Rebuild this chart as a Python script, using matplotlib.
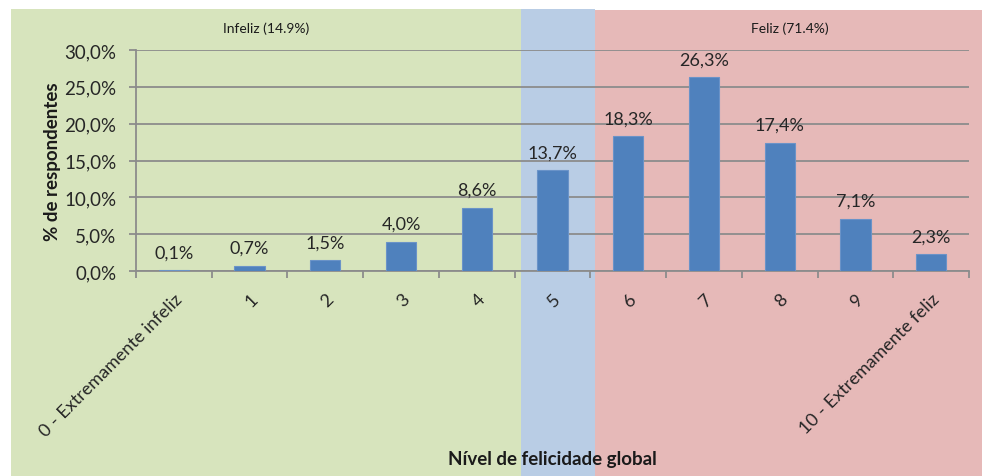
import matplotlib
matplotlib.use("Agg")
import matplotlib.pyplot as plt
from matplotlib.patches import Rectangle
import numpy as np

categories = ["0 - Extremamente infeliz", "1", "2", "3", "4", "5", "6", "7", "8", "9",
              "10 - Extremamente feliz"]
values = [0.1, 0.7, 1.5, 4.0, 8.6, 13.7, 18.3, 26.3, 17.4, 7.1, 2.3]
yticks = [0, 5, 10, 15, 20, 25, 30]
band_labels = ["Infeliz (14.9%)", "Feliz (71.4%)"]

plt.rcParams['font.family'] = ['Lato', 'DejaVu Sans']

W, H = 984, 477
fig = plt.figure(figsize=(W / 100, H / 100), dpi=100)

def fx(px):
    return px / W

def fy(py):
    return 1 - py / H

# background bands (figure coordinates)
bands = [(11, 521, 10, "#D7E4BD"), (521, 595, 10, "#B9CDE5"), (595, 982, 11, "#E6B9B8")]
for x0, x1, top, col in bands:
    fig.patches.append(Rectangle((fx(x0), 0), fx(x1) - fx(x0), fy(top), transform=fig.transFigure,
                                 facecolor=col, edgecolor="none", zorder=-10))

ax = fig.add_axes([fx(136), fy(272), fx(969) - fx(136), fy(51) - fy(272)])
ax.patch.set_visible(False)
ax.set_zorder(5)

x = np.arange(len(categories))
ax.bar(x, values, width=0.4, color="#4F81BD", edgecolor="#6A93C8", linewidth=0.8, zorder=3)
for xi, v in zip(x, values):
    ax.annotate(f"{v:.1f}%".replace(".", ","), (xi, v), xytext=(0, 7), textcoords="offset points",
                ha="center", va="bottom", fontsize=13, color="#262626")

ax.set_xlim(-0.5, len(categories) - 0.5)
ax.set_ylim(0, 30)
ax.set_yticks(yticks)
ax.set_yticklabels([f"{t:.1f}%".replace(".", ",") for t in yticks], fontsize=13.5, color="#262626")
ax.yaxis.grid(True, color="#8C8C8C", linewidth=1.3, zorder=1)
ax.set_axisbelow(True)

ax.set_xticks(x)
ax.set_xticklabels(categories, rotation=45, ha="right", rotation_mode="anchor", fontsize=13, color="#262626")
ax.set_xticks(np.arange(len(categories) + 1) - 0.5, minor=True)
ax.tick_params(axis="x", which="major", length=0, pad=14)
ax.tick_params(axis="x", which="minor", length=5, color="#8C8C8C", width=1.3, direction="out")
ax.tick_params(axis="y", length=5, color="#8C8C8C", width=1.3, direction="out", pad=9)

for s in ["top", "right"]:
    ax.spines[s].set_visible(False)
for s in ["left", "bottom"]:
    ax.spines[s].set_color("#8C8C8C")
    ax.spines[s].set_linewidth(1.3)

ax.set_ylabel("% de respondentes", fontsize=13.5, fontweight="bold", color="#1a1a1a", labelpad=2.5)
fig.text(fx(552), fy(460), "Nível de felicidade global", ha="center", va="center",
         fontsize=13.5, fontweight="bold", color="#1a1a1a")

fig.text(fx(266), fy(29), band_labels[0], ha="center", va="center", fontsize=10, color="#1a1a1a")
fig.text(fx(790), fy(29), band_labels[1], ha="center", va="center", fontsize=10, color="#1a1a1a")

fig.savefig("out.png", dpi=100)
